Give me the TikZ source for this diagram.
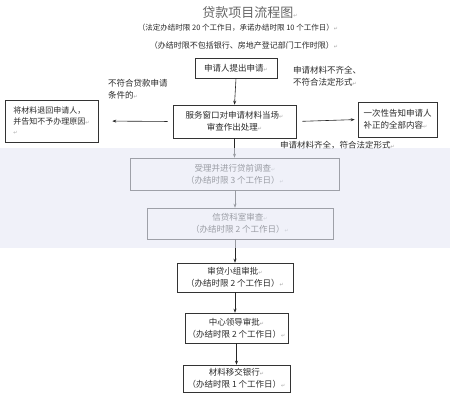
\documentclass[tikz,border=0pt]{standalone}
\usepackage{fontspec}
\setmainfont{Noto Sans CJK SC}
\newfontfamily\symfont{DejaVu Sans}
\usetikzlibrary{arrows.meta}
\definecolor{txt}{HTML}{2A2A2A}
\definecolor{band}{HTML}{E6E9F6}
\newcommand{\rmk}{{\symfont\color{gray!70}\fontsize{5}{5}\selectfont ↵}}
\begin{document}
\begin{tikzpicture}[x=1pt,y=-1pt,
  box/.style={draw=black!80,line width=0.6pt,align=center,inner sep=1pt,
    font=\fontsize{8.5}{12}\selectfont,text=txt},
  lbl/.style={align=left,font=\fontsize{8.5}{12}\selectfont,text=txt,inner sep=0pt},
  arr/.style={-{Stealth[length=4pt,width=3pt]},line width=0.6pt,draw=black!85}]
\useasboundingbox (0,0) rectangle (450,400);
\fill[white] (0,0) rectangle (450,400);
% header
\node[font=\fontsize{13}{13}\selectfont,text=black!60] (title) at (250,13) {贷款项目流程图\rmk};
\node[font=\fontsize{7.5}{8}\selectfont,text=txt] (sub1) at (238,28) {（法定办结时限 20 个工作日，承诺办结时限 10 个工作日）\rmk};
\node[font=\fontsize{8}{8}\selectfont,text=txt] (sub2) at (244,45) {（办结时限不包括银行、房地产登记部门工作时限）\rmk};
% boxes
\node[box,minimum width=82,minimum height=20] (b1) at (236,68) {申请人提出申请\rmk};
\node[box,minimum width=123,minimum height=33] (b2) at (234.5,121.5) {服务窗口对申请材料当场\rmk\\审查作出处理\rmk};
\node[box,minimum width=93,minimum height=42,align=left,
  font=\fontsize{8}{10.5}\selectfont] (bl) at (51.5,121) {将材料退回申请人，\\并告知不予办理原因\rmk\\\rmk};
\node[box,minimum width=79,minimum height=35,align=left] (br) at (397.5,119.5) {一次性告知申请人\\补正的全部内容\rmk};
\node[box,minimum width=209,minimum height=32] (b3) at (235,174) {受理并进行贷前调查\rmk\\（办结时限 3 个工作日）\rmk};
\node[box,minimum width=186,minimum height=31] (b4) at (240,223.5) {信贷科室审查\rmk\\（办结时限 2 个工作日）\rmk};
\node[box,minimum width=116,minimum height=29] (b5) at (235,277.5) {审贷小组审批\rmk\\（办结时限 2 个工作日）\rmk};
\node[box,minimum width=103,minimum height=30] (b6) at (236.5,328) {中心领导审批\rmk\\（办结时限 2 个工作日）\rmk};
\node[box,minimum width=107,minimum height=27] (b7) at (236.5,378.5) {材料移交银行\rmk\\（办结时限 1 个工作日）\rmk};
% labels
\node[lbl,anchor=north west] (l1) at (108,79) {不符合贷款申请\\条件的\rmk};
\node[lbl,anchor=north west] (l2) at (293,66) {申请材料不齐全、\\不符合法定形式\rmk};
\node[lbl,anchor=west] (l3) at (280,145) {申请材料齐全，符合法定形式\rmk};
% arrows
\draw[arr] (b1.south) -- (b2.north);
\draw[arr,shorten <=5pt,shorten >=14pt] (b2.west) -- (bl.east);
\draw[arr,shorten <=6pt,shorten >=3pt] (b2.east) -- (br.west);
\draw[arr] (b2.south) -- (b3.north -| b2.south);
\draw[arr] (b3.south) -- (b3.south |- b4.north);
\draw[arr] (b4.south -| b5.north) -- (b5.north);
\draw[arr] (b5.south) -- (b6.north -| b5.south);
\draw[arr] (b6.south) -- (b7.north -| b6.south);
% watermark band
\fill[band,opacity=0.6] (0,148) rectangle (450,248);
\end{tikzpicture}
\end{document}
